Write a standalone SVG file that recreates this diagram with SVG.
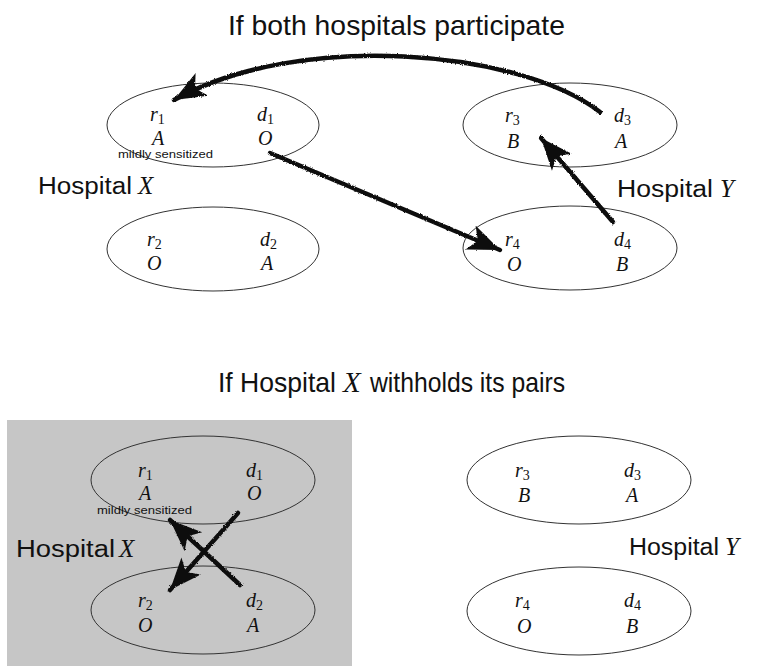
<svg xmlns="http://www.w3.org/2000/svg" width="760" height="666" viewBox="0 0 760 666">
<style>
.ttl{font-family:"Liberation Sans",Arial,sans-serif;font-size:28px;fill:#111}
.hosp{font-family:"Liberation Sans",Arial,sans-serif;font-size:23px;fill:#111}
.it{font-family:"Liberation Serif","Times New Roman",serif;font-style:italic;fill:#111}
.v{font-family:"Liberation Serif","Times New Roman",serif;font-style:italic;font-size:20px;fill:#111}
.sub{font-style:normal;font-size:14px}
.note{font-family:"Liberation Sans",Arial,sans-serif;font-size:11px;fill:#111}
.pair{fill:none;stroke:#333;stroke-width:1}
.arr{fill:none;stroke:#111;stroke-width:4.5;stroke-linecap:round}
</style>
<defs>
<filter id="rough" x="-10%" y="-10%" width="120%" height="120%">
<feTurbulence type="fractalNoise" baseFrequency="0.9" numOctaves="2" seed="3" result="n"/>
<feDisplacementMap in="SourceGraphic" in2="n" scale="2.5" xChannelSelector="R" yChannelSelector="G"/>
</filter>
<marker id="ah" markerUnits="userSpaceOnUse" markerWidth="36" markerHeight="30" viewBox="-34 -15 36 30" refX="0" refY="0" orient="auto">
<path d="M0,0 L-32,-13 L-24,0 L-32,13 Z" fill="#111"/>
</marker>
</defs>

<rect x="7" y="420" width="345" height="246" fill="#c6c6c6"/>

<text class="ttl" x="228" y="35" textLength="337" lengthAdjust="spacingAndGlyphs">If both hospitals participate</text>
<text class="ttl" x="218" y="392"><tspan textLength="118" lengthAdjust="spacingAndGlyphs">If Hospital</tspan><tspan class="it" x="343" font-size="29">X</tspan><tspan x="370" textLength="195" lengthAdjust="spacingAndGlyphs">withholds its pairs</tspan></text>

<g id="top-X">
<text class="hosp" x="38" y="194" textLength="94" lengthAdjust="spacingAndGlyphs">Hospital</text>
<text class="it" x="138" y="194" font-size="25">X</text>
</g>
<g id="top-Y">
<text class="hosp" x="617" y="197" textLength="96" lengthAdjust="spacingAndGlyphs">Hospital</text>
<text class="it" x="720" y="197" font-size="25">Y</text>
</g>

<g id="top-pair1">
<ellipse class="pair" cx="213" cy="125" rx="106" ry="42"/>
<text class="v" x="150" y="121">r<tspan class="sub" dy="3">1</tspan></text>
<text class="v" x="152" y="145">A</text>
<text class="v" x="257" y="121">d<tspan class="sub" dy="3">1</tspan></text>
<text class="v" x="258" y="145">O</text>
<text class="note" x="118" y="158" textLength="95" lengthAdjust="spacingAndGlyphs">mildly sensitized</text>
</g>
<g id="top-pair2">
<ellipse class="pair" cx="213" cy="249" rx="106" ry="42"/>
<text class="v" x="147" y="246">r<tspan class="sub" dy="3">2</tspan></text>
<text class="v" x="147" y="270">O</text>
<text class="v" x="260" y="246">d<tspan class="sub" dy="3">2</tspan></text>
<text class="v" x="261" y="270">A</text>
</g>
<g id="top-pair3">
<ellipse class="pair" cx="570" cy="125" rx="107" ry="42"/>
<text class="v" x="505" y="122">r<tspan class="sub" dy="3">3</tspan></text>
<text class="v" x="507" y="148">B</text>
<text class="v" x="614" y="122">d<tspan class="sub" dy="3">3</tspan></text>
<text class="v" x="615" y="148">A</text>
</g>
<g id="top-pair4">
<ellipse class="pair" cx="570" cy="248" rx="107" ry="42"/>
<text class="v" x="505" y="246">r<tspan class="sub" dy="3">4</tspan></text>
<text class="v" x="507" y="271">O</text>
<text class="v" x="614" y="246">d<tspan class="sub" dy="3">4</tspan></text>
<text class="v" x="616" y="271">B</text>
</g>

<g id="bot-X">
<text class="hosp" x="16" y="557" textLength="99" lengthAdjust="spacingAndGlyphs">Hospital</text>
<text class="it" x="119" y="557" font-size="25">X</text>
</g>
<g id="bot-Y">
<text class="hosp" x="629" y="555" textLength="90" lengthAdjust="spacingAndGlyphs">Hospital</text>
<text class="it" x="725" y="555" font-size="25">Y</text>
</g>

<g id="bot-pair1">
<ellipse class="pair" cx="203" cy="480" rx="112" ry="44"/>
<text class="v" x="138" y="477">r<tspan class="sub" dy="3">1</tspan></text>
<text class="v" x="139" y="500">A</text>
<text class="v" x="246" y="477">d<tspan class="sub" dy="3">1</tspan></text>
<text class="v" x="247" y="500">O</text>
<text class="note" x="97" y="514" textLength="95" lengthAdjust="spacingAndGlyphs">mildly sensitized</text>
</g>
<g id="bot-pair2">
<ellipse class="pair" cx="203" cy="610" rx="112" ry="44"/>
<text class="v" x="138" y="607">r<tspan class="sub" dy="3">2</tspan></text>
<text class="v" x="138" y="632">O</text>
<text class="v" x="246" y="607">d<tspan class="sub" dy="3">2</tspan></text>
<text class="v" x="247" y="632">A</text>
</g>
<g id="bot-pair3">
<ellipse class="pair" cx="579" cy="480" rx="112" ry="44"/>
<text class="v" x="515" y="477">r<tspan class="sub" dy="3">3</tspan></text>
<text class="v" x="518" y="502">B</text>
<text class="v" x="624" y="477">d<tspan class="sub" dy="3">3</tspan></text>
<text class="v" x="626" y="502">A</text>
</g>
<g id="bot-pair4">
<ellipse class="pair" cx="579" cy="611" rx="112" ry="44"/>
<text class="v" x="515" y="607">r<tspan class="sub" dy="3">4</tspan></text>
<text class="v" x="517" y="633">O</text>
<text class="v" x="624" y="607">d<tspan class="sub" dy="3">4</tspan></text>
<text class="v" x="626" y="633">B</text>
</g>

<g id="connectors" filter="url(#rough)">
<path class="arr" d="M600,112 C520,50 300,30 174,100" marker-end="url(#ah)"/>
<path class="arr" d="M270,153 L500,250" marker-end="url(#ah)"/>
<path class="arr" d="M613,222 L541,138" marker-end="url(#ah)"/>
<path class="arr" d="M238,513 L170,590" marker-end="url(#ah)"/>
<path class="arr" d="M240,585 L170,520" marker-end="url(#ah)"/>
</g>
</svg>
